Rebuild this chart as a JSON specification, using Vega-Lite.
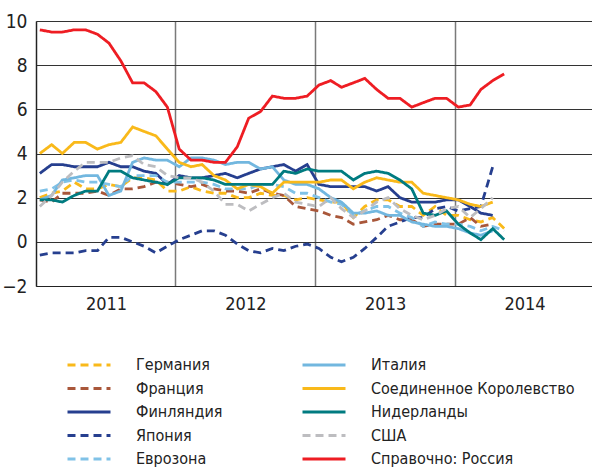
{
  "$schema": "https://vega.github.io/schema/vega-lite/v6.json",
  "width": 556,
  "height": 265,
  "autosize": {"type": "none"},
  "padding": {"left": 36, "top": 21, "right": 0, "bottom": 183},
  "background": "white",
  "data": {"values": [
    {"d": "2011-01-11", "Германия": 2.0, "Франция": 1.9, "Финляндия": 3.1, "Япония": -0.6, "Еврозона": 2.3, "Италия": 1.9, "Соединенное Королевство": 4.0, "Нидерланды": 1.9, "США": 1.6, "Справочно: Россия": 9.6},
    {"d": "2011-02-11", "Германия": 2.2, "Франция": 1.8, "Финляндия": 3.5, "Япония": -0.5, "Еврозона": 2.4, "Италия": 2.1, "Соединенное Королевство": 4.4, "Нидерланды": 1.9, "США": 2.1, "Справочно: Россия": 9.5},
    {"d": "2011-03-11", "Германия": 2.3, "Франция": 2.2, "Финляндия": 3.5, "Япония": -0.5, "Еврозона": 2.7, "Италия": 2.8, "Соединенное Королевство": 4.0, "Нидерланды": 1.8, "США": 2.7, "Справочно: Россия": 9.5},
    {"d": "2011-04-11", "Германия": 2.7, "Франция": 2.2, "Финляндия": 3.4, "Япония": -0.5, "Еврозона": 2.8, "Италия": 2.9, "Соединенное Королевство": 4.5, "Нидерланды": 2.1, "США": 3.2, "Справочно: Россия": 9.6},
    {"d": "2011-05-11", "Германия": 2.4, "Франция": 2.2, "Финляндия": 3.4, "Япония": -0.4, "Еврозона": 2.7, "Италия": 3.0, "Соединенное Королевство": 4.5, "Нидерланды": 2.3, "США": 3.6, "Справочно: Россия": 9.6},
    {"d": "2011-06-11", "Германия": 2.4, "Франция": 2.3, "Финляндия": 3.4, "Япония": -0.4, "Еврозона": 2.7, "Италия": 3.0, "Соединенное Королевство": 4.2, "Нидерланды": 2.3, "США": 3.6, "Справочно: Россия": 9.4},
    {"d": "2011-07-11", "Германия": 2.6, "Франция": 2.1, "Финляндия": 3.6, "Япония": 0.2, "Еврозона": 2.6, "Италия": 2.1, "Соединенное Королевство": 4.4, "Нидерланды": 3.2, "США": 3.6, "Справочно: Россия": 9.0},
    {"d": "2011-08-11", "Германия": 2.5, "Франция": 2.4, "Финляндия": 3.4, "Япония": 0.2, "Еврозона": 2.5, "Италия": 2.3, "Соединенное Королевство": 4.5, "Нидерланды": 3.2, "США": 3.8, "Справочно: Россия": 8.2},
    {"d": "2011-09-11", "Германия": 2.9, "Франция": 2.4, "Финляндия": 3.4, "Япония": 0.0, "Еврозона": 3.0, "Италия": 3.6, "Соединенное Королевство": 5.2, "Нидерланды": 2.9, "США": 3.9, "Справочно: Россия": 7.2},
    {"d": "2011-10-11", "Германия": 2.9, "Франция": 2.5, "Финляндия": 3.2, "Япония": -0.2, "Еврозона": 3.0, "Италия": 3.8, "Соединенное Королевство": 5.0, "Нидерланды": 2.8, "США": 3.5, "Справочно: Россия": 7.2},
    {"d": "2011-11-11", "Германия": 2.8, "Франция": 2.7, "Финляндия": 3.1, "Япония": -0.5, "Еврозона": 3.0, "Италия": 3.7, "Соединенное Королевство": 4.8, "Нидерланды": 2.7, "США": 3.4, "Справочно: Россия": 6.8},
    {"d": "2011-12-11", "Германия": 2.3, "Франция": 2.7, "Финляндия": 2.6, "Япония": -0.2, "Еврозона": 2.7, "Италия": 3.7, "Соединенное Королевство": 4.2, "Нидерланды": 2.6, "США": 3.0, "Справочно: Россия": 6.1},
    {"d": "2012-01-11", "Германия": 2.3, "Франция": 2.6, "Финляндия": 3.0, "Япония": 0.1, "Еврозона": 2.7, "Италия": 3.4, "Соединенное Королевство": 3.6, "Нидерланды": 2.9, "США": 2.9, "Справочно: Россия": 4.2},
    {"d": "2012-02-11", "Германия": 2.5, "Франция": 2.5, "Финляндия": 2.9, "Япония": 0.3, "Еврозона": 2.7, "Италия": 3.8, "Соединенное Королевство": 3.4, "Нидерланды": 2.9, "США": 2.9, "Справочно: Россия": 3.7},
    {"d": "2012-03-11", "Германия": 2.3, "Франция": 2.6, "Финляндия": 2.9, "Япония": 0.5, "Еврозона": 2.7, "Италия": 3.8, "Соединенное Королевство": 3.5, "Нидерланды": 2.9, "США": 2.7, "Справочно: Россия": 3.7},
    {"d": "2012-04-11", "Германия": 2.2, "Франция": 2.4, "Финляндия": 3.0, "Япония": 0.5, "Еврозона": 2.6, "Италия": 3.7, "Соединенное Королевство": 3.0, "Нидерланды": 2.8, "США": 2.3, "Справочно: Россия": 3.6},
    {"d": "2012-05-11", "Германия": 2.2, "Франция": 2.3, "Финляндия": 3.1, "Япония": 0.3, "Еврозона": 2.4, "Италия": 3.5, "Соединенное Королевство": 2.8, "Нидерланды": 2.6, "США": 1.7, "Справочно: Россия": 3.6},
    {"d": "2012-06-11", "Германия": 2.0, "Франция": 2.3, "Финляндия": 2.9, "Япония": -0.1, "Еврозона": 2.4, "Италия": 3.6, "Соединенное Королевство": 2.4, "Нидерланды": 2.6, "США": 1.7, "Справочно: Россия": 4.3},
    {"d": "2012-07-11", "Германия": 2.0, "Франция": 2.2, "Финляндия": 3.1, "Япония": -0.4, "Еврозона": 2.4, "Италия": 3.6, "Соединенное Королевство": 2.6, "Нидерланды": 2.6, "США": 1.4, "Справочно: Россия": 5.6},
    {"d": "2012-08-11", "Германия": 2.2, "Франция": 2.4, "Финляндия": 3.3, "Япония": -0.5, "Еврозона": 2.6, "Италия": 3.3, "Соединенное Королевство": 2.5, "Нидерланды": 2.6, "США": 1.7, "Справочно: Россия": 5.9},
    {"d": "2012-09-11", "Германия": 2.1, "Франция": 2.2, "Финляндия": 3.4, "Япония": -0.3, "Еврозона": 2.6, "Италия": 3.4, "Соединенное Королевство": 2.2, "Нидерланды": 2.6, "США": 2.0, "Справочно: Россия": 6.6},
    {"d": "2012-10-11", "Германия": 2.1, "Франция": 2.1, "Финляндия": 3.5, "Япония": -0.4, "Еврозона": 2.5, "Италия": 2.8, "Соединенное Королевство": 2.7, "Нидерланды": 3.2, "США": 2.2, "Справочно: Россия": 6.5},
    {"d": "2012-11-11", "Германия": 1.9, "Франция": 1.6, "Финляндия": 3.2, "Япония": -0.2, "Еврозона": 2.2, "Италия": 2.6, "Соединенное Королевство": 2.7, "Нидерланды": 3.1, "США": 1.8, "Справочно: Россия": 6.5},
    {"d": "2012-12-11", "Германия": 2.0, "Франция": 1.5, "Финляндия": 3.5, "Япония": -0.1, "Еврозона": 2.2, "Италия": 2.6, "Соединенное Королевство": 2.7, "Нидерланды": 3.3, "США": 1.7, "Справочно: Россия": 6.6},
    {"d": "2013-01-11", "Германия": 1.9, "Франция": 1.4, "Финляндия": 2.6, "Япония": -0.3, "Еврозона": 2.0, "Италия": 2.4, "Соединенное Королевство": 2.7, "Нидерланды": 3.2, "США": 1.6, "Справочно: Россия": 7.1},
    {"d": "2013-02-11", "Германия": 1.8, "Франция": 1.2, "Финляндия": 2.5, "Япония": -0.7, "Еврозона": 1.8, "Италия": 2.0, "Соединенное Королевство": 2.8, "Нидерланды": 3.2, "США": 2.0, "Справочно: Россия": 7.3},
    {"d": "2013-03-11", "Германия": 1.8, "Франция": 1.1, "Финляндия": 2.5, "Япония": -0.9, "Еврозона": 1.7, "Италия": 1.8, "Соединенное Королевство": 2.8, "Нидерланды": 3.2, "США": 1.5, "Справочно: Россия": 7.0},
    {"d": "2013-04-11", "Германия": 1.1, "Франция": 0.8, "Финляндия": 2.5, "Япония": -0.7, "Еврозона": 1.2, "Италия": 1.3, "Соединенное Королевство": 2.4, "Нидерланды": 2.8, "США": 1.1, "Справочно: Россия": 7.2},
    {"d": "2013-05-11", "Германия": 1.6, "Франция": 0.9, "Финляндия": 2.5, "Япония": -0.3, "Еврозона": 1.4, "Италия": 1.3, "Соединенное Королевство": 2.7, "Нидерланды": 3.1, "США": 1.4, "Справочно: Россия": 7.4},
    {"d": "2013-06-11", "Германия": 1.9, "Франция": 1.0, "Финляндия": 2.3, "Япония": 0.2, "Еврозона": 1.6, "Италия": 1.4, "Соединенное Королевство": 2.9, "Нидерланды": 3.2, "США": 1.8, "Справочно: Россия": 6.9},
    {"d": "2013-07-11", "Германия": 1.9, "Франция": 1.2, "Финляндия": 2.5, "Япония": 0.7, "Еврозона": 1.6, "Италия": 1.2, "Соединенное Королевство": 2.8, "Нидерланды": 3.1, "США": 2.0, "Справочно: Россия": 6.5},
    {"d": "2013-08-11", "Германия": 1.6, "Франция": 1.0, "Финляндия": 2.0, "Япония": 0.9, "Еврозона": 1.3, "Италия": 1.2, "Соединенное Королевство": 2.7, "Нидерланды": 2.8, "США": 1.5, "Справочно: Россия": 6.5},
    {"d": "2013-09-11", "Германия": 1.6, "Франция": 1.0, "Финляндия": 1.8, "Япония": 1.1, "Еврозона": 1.1, "Италия": 0.9, "Соединенное Королевство": 2.7, "Нидерланды": 2.4, "США": 1.2, "Справочно: Россия": 6.1},
    {"d": "2013-10-11", "Германия": 1.2, "Франция": 0.7, "Финляндия": 1.8, "Япония": 1.1, "Еврозона": 0.7, "Италия": 0.8, "Соединенное Королевство": 2.2, "Нидерланды": 1.3, "США": 1.0, "Справочно: Россия": 6.3},
    {"d": "2013-11-11", "Германия": 1.6, "Франция": 0.8, "Финляндия": 1.8, "Япония": 1.5, "Еврозона": 0.9, "Италия": 0.7, "Соединенное Королевство": 2.1, "Нидерланды": 1.2, "США": 1.2, "Справочно: Россия": 6.5},
    {"d": "2013-12-11", "Германия": 1.2, "Франция": 0.8, "Финляндия": 1.9, "Япония": 1.6, "Еврозона": 0.8, "Италия": 0.7, "Соединенное Королевство": 2.0, "Нидерланды": 1.4, "США": 1.5, "Справочно: Россия": 6.5},
    {"d": "2014-01-11", "Германия": 1.2, "Франция": 0.8, "Финляндия": 1.9, "Япония": 1.4, "Еврозона": 0.8, "Италия": 0.6, "Соединенное Королевство": 1.9, "Нидерланды": 0.8, "США": 1.6, "Справочно: Россия": 6.1},
    {"d": "2014-02-11", "Германия": 1.0, "Франция": 1.1, "Финляндия": 1.6, "Япония": 1.5, "Еврозона": 0.7, "Италия": 0.4, "Соединенное Королевство": 1.7, "Нидерланды": 0.4, "США": 1.1, "Справочно: Россия": 6.2},
    {"d": "2014-03-11", "Германия": 0.9, "Франция": 0.7, "Финляндия": 1.3, "Япония": 1.6, "Еврозона": 0.5, "Италия": 0.3, "Соединенное Королевство": 1.6, "Нидерланды": 0.1, "США": 1.5, "Справочно: Россия": 6.9},
    {"d": "2014-04-11", "Германия": 1.1, "Франция": 0.8, "Финляндия": 1.2, "Япония": 3.4, "Еврозона": 0.7, "Италия": 0.5, "Соединенное Королевство": 1.8, "Нидерланды": 0.6, "США": 2.0, "Справочно: Россия": 7.3},
    {"d": "2014-05-11", "Германия": 0.6, "Еврозона": 0.5, "Нидерланды": 0.1, "Справочно: Россия": 7.6}
  ]},
  "transform": [
    {"fold": ["Германия", "Франция", "Финляндия", "Япония", "Еврозона", "Италия", "Соединенное Королевство", "Нидерланды", "США", "Справочно: Россия"], "as": ["c", "v"]}
  ],
  "mark": {"type": "line", "strokeWidth": 2.8, "clip": true},
  "encoding": {
    "x": {
      "field": "d", "type": "temporal",
      "scale": {"type": "utc", "domain": ["2011-01-01", "2014-12-27"]},
      "axis": {
        "title": null,
        "values": ["2011-01-01", "2012-01-01", "2013-01-01", "2014-01-01"],
        "format": "%Y", "formatType": "utc",
        "grid": true, "gridColor": "#7a7a7a", "gridWidth": 1.5, "gridOpacity": 1,
        "ticks": false,
        "domain": true, "domainColor": "#222222", "domainWidth": 1.2,
        "labelOffset": 70, "labelPadding": 9, "labelAlign": "center",
        "labelFont": "DejaVu Sans Condensed, Liberation Sans, sans-serif", "labelFontSize": 18, "labelColor": "#222222"
      }
    },
    "y": {
      "field": "v", "type": "quantitative",
      "scale": {"domain": [-2, 10], "nice": false, "zero": false},
      "axis": {
        "title": null,
        "values": [-2, 0, 2, 4, 6, 8, 10],
        "grid": true, "gridColor": "#333333", "gridWidth": 1, "gridOpacity": 1,
        "ticks": false,
        "domain": true, "domainColor": "#222222", "domainWidth": 1.2,
        "labelPadding": 9,
        "labelFont": "DejaVu Sans Condensed, Liberation Sans, sans-serif", "labelFontSize": 19, "labelColor": "#222222"
      }
    },
    "color": {
      "field": "c", "type": "nominal",
      "scale": {
        "domain": ["Германия", "Франция", "Финляндия", "Япония", "Еврозона", "Италия", "Соединенное Королевство", "Нидерланды", "США", "Справочно: Россия"],
        "range": ["#f9b91a", "#a9573a", "#263f8f", "#263f8f", "#80c2e7", "#72b7df", "#f9b91a", "#007b80", "#bdbdc0", "#ee1d23"]
      },
      "legend": {"title": null}
    },
    "strokeDash": {
      "field": "c", "type": "nominal",
      "scale": {
        "domain": ["Германия", "Франция", "Финляндия", "Япония", "Еврозона", "Италия", "Соединенное Королевство", "Нидерланды", "США", "Справочно: Россия"],
        "range": [[8, 5], [8, 5], [1, 0], [8, 5], [8, 5], [1, 0], [1, 0], [1, 0], [8, 5], [1, 0]]
      },
      "legend": {"title": null}
    }
  },
  "config": {
    "view": {"stroke": null},
    "legend": {
      "orient": "none", "legendX": 30, "legendY": 334,
      "columns": 2, "columnPadding": 78, "rowPadding": 3.5,
      "symbolType": "stroke", "symbolSize": 1849, "symbolStrokeWidth": 3,
      "clipHeight": 20,
      "labelFont": "DejaVu Sans Condensed, Liberation Sans, sans-serif", "labelFontSize": 16, "labelColor": "#222222",
      "labelOffset": 24, "labelLimit": 400, "padding": 0
    }
  }
}
